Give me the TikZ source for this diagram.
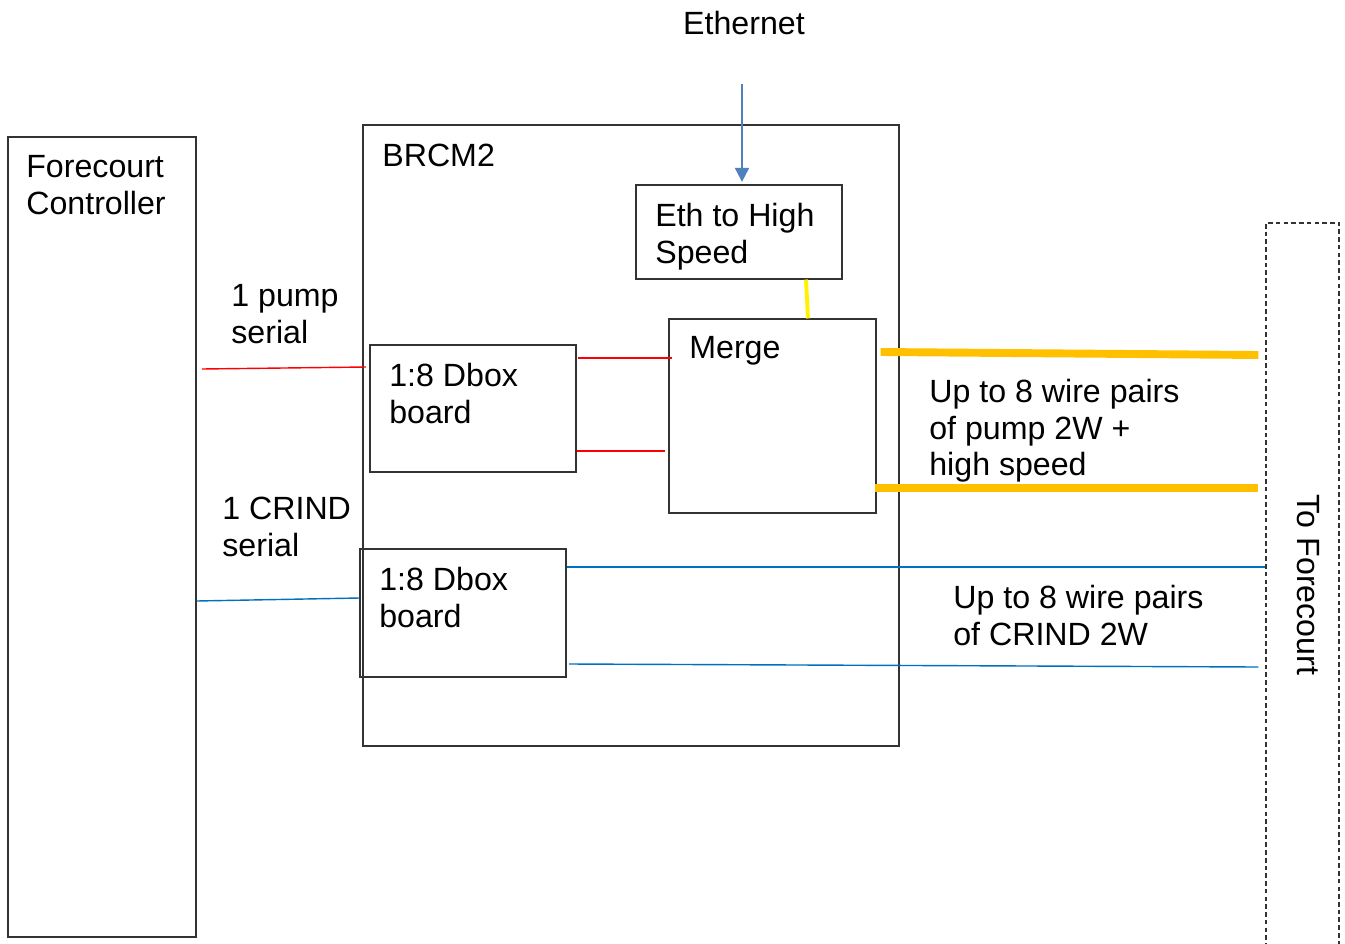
\documentclass[tikz,border=0pt]{standalone}
\usepackage{fontspec}
\setmainfont{Liberation Sans}
\usetikzlibrary{arrows.meta,positioning,fit}
\definecolor{ethblue}{HTML}{4F81BD}
\definecolor{wireblue}{HTML}{0070C0}
\definecolor{wireorange}{HTML}{FFC000}
\begin{document}
\begin{tikzpicture}[x=0.02cm,y=-0.02cm,>={Triangle[width=8pt,length=8pt]},every node/.style={font=\fontsize{18.3}{20.8}\selectfont},box/.style={draw=black!80,line width=0.6pt,inner sep=0pt},txt/.style={anchor=north west,align=left,inner sep=0pt},pumpline/.style={red,line width=0.8pt},crindline/.style={wireblue,line width=0.8pt},hsline/.style={wireorange,line width=4.5pt}]
\useasboundingbox (0,0) rectangle (1345,943);
% boxes
\node[box,fit={(8,137) (196,937)}] (fc) {};
\node[box,fit={(363,125) (899,746)}] (brcm) {};
\node[box,fit={(636,185) (842,279)}] (e2h) {};
\node[box,fit={(669,319) (876,513)}] (merge) {};
\node[box,fit={(370,345) (576,472)}] (dbA) {};
\node[box,fit={(360,549) (566,677)}] (dbB) {};
\node[box,dashed,dash pattern=on 2.6pt off 1.8pt,fit={(1266,223) (1339,965)}] (fwd) {};
% texts
\node[txt] (fclbl) at (26,155) {Forecourt\\Controller};
\node[txt] (brcmlbl) at (382,144) {BRCM2};
\node[txt] (e2hlbl) at (655,203) {Eth to High\\Speed};
\node[txt] (mergelbl) at (689,336) {Merge};
\node[txt] (dbAlbl) at (389,363) {1:8 Dbox\\board};
\node[txt] (dbBlbl) at (379,567) {1:8 Dbox\\board};
\node[txt] (pumplbl) at (231,284) {1 pump\\serial};
\node[txt] (crindlbl) at (222,497) {1 CRIND\\serial};
\node[txt] (hslbl) at (929,379) {Up to 8 wire pairs\\of pump 2W +\\high speed};
\node[txt] (crind2lbl) at (953,585) {Up to 8 wire pairs\\of CRIND 2W};
\node (eth) at (744,23) {Ethernet};
\node[rotate=-90] (fwdlbl) at (1308,585) {To Forecourt};
% connectors
\coordinate (ethin) at (742,84);
\draw[->,ethblue,line width=1.2pt] (ethin) -- ([yshift=1.5pt]e2h.north -| ethin);
\draw[yellow,line width=2.2pt] (e2h.south -| 806,0) -- (merge.north -| 808,0);
\draw[pumpline] ([xshift=3pt]fc.east |- 0,369) -- ([xshift=-2pt]dbA.west |- 0,367);
\draw[pumpline] ([xshift=1pt]dbA.east |- 0,358) -- ([xshift=2pt]merge.west |- 0,358);
\draw[pumpline] (dbA.east |- 0,451) -- ([xshift=-2pt]merge.west |- 0,451);
\draw[hsline] ([xshift=2.3pt]merge.east |- 0,352) -- ([xshift=-4pt]fwd.west |- 0,355);
\draw[hsline] ([xshift=-1pt]merge.east |- 0,488) -- ([xshift=-4.5pt]fwd.west |- 0,488);
\draw[crindline] (fc.east |- 0,601) -- (dbB.west |- 0,598);
\draw[crindline] (dbB.east |- 0,567) -- (fwd.west |- 0,567);
\draw[crindline] ([xshift=1.5pt]dbB.east |- 0,664) -- ([xshift=-4pt]fwd.west |- 0,667);
\end{tikzpicture}
\end{document}
